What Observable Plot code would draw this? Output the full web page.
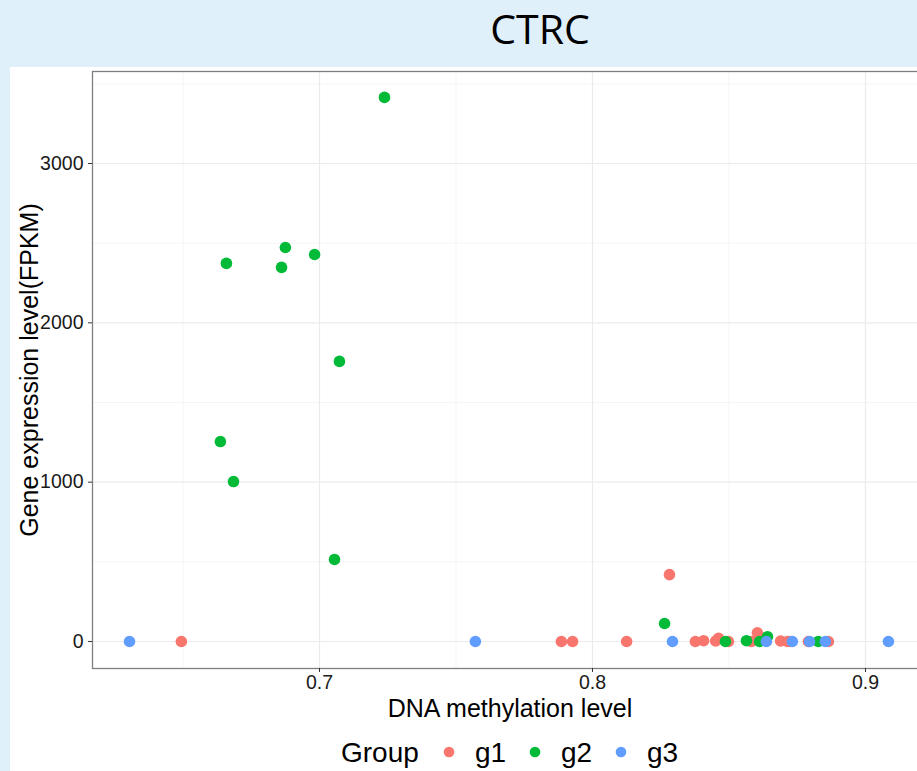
<!DOCTYPE html>
<html>
<head>
<meta charset="utf-8">
<script src="https://cdn.jsdelivr.net/npm/d3@7"></script>
<script src="https://cdn.jsdelivr.net/npm/@observablehq/plot@0.6"></script>
<style>
  html, body { margin: 0; padding: 0; width: 917px; height: 771px; overflow: hidden; background: #dff0fb; }
  #white { position: absolute; left: 10px; top: 67px; width: 907px; height: 704px; background: #ffffff; }
  #title { position: absolute; left: 540px; top: 8px; transform: translateX(-50%); font-family: "Open Sans", sans-serif; font-size: 41px; line-height: 41px; color: #000; white-space: nowrap; }
  #chart { position: absolute; left: 0; top: 0; }
  .lab { position: absolute; font-family: "Liberation Sans", Arial, sans-serif; color: #000; white-space: nowrap; line-height: 1; }
  #xtitle { left: 510px; top: 708px; font-size: 25px; transform: translate(-50%, -50%); }
  #ytitle { left: 29px; top: 370px; font-size: 25px; transform: translate(-50%, -50%) rotate(-90deg); }
  #legend { position: absolute; left: 0; top: 0; }
</style>
</head>
<body>
<div id="white"></div>
<div id="title">CTRC</div>
<div id="chart"></div>
<div class="lab" id="xtitle">DNA methylation level</div>
<div class="lab" id="ytitle">Gene expression level(FPKM)</div>
<div id="legend"></div>
<script>
// ---- data ----
const groups = ["g1", "g2", "g3"];
const groupColors = ["#F8766D", "#00BA38", "#619CFF"];

const g1X = [0.6494, 0.7886, 0.7927, 0.8125, 0.8282, 0.8377, 0.8407, 0.8451, 0.8462, 0.8498, 0.8582, 0.8604, 0.8689, 0.8714, 0.8725, 0.8791, 0.8864];
const g1Y = [0, 0, 0, 0, 420, 0, 5, 3, 20, 0, 0, 55, 3, 0, 0, 0, 0];

const g2X = [0.7238, 0.6875, 0.6982, 0.6659, 0.6861, 0.7073, 0.6637, 0.6685, 0.7055, 0.8264, 0.8487, 0.8564, 0.8612, 0.8641, 0.8827];
const g2Y = [3415, 2473, 2429, 2373, 2348, 1758, 1255, 1004, 515, 113, 0, 5, 0, 30, 0];

const g3X = [0.6304, 0.7571, 0.8293, 0.8637, 0.8732, 0.8795, 0.8853, 0.9084];
const g3Y = [0, 0, 0, 0, 0, 0, 0, 0];

const xMajor = [0.7, 0.8, 0.9];
const xMinor = [0.65, 0.75, 0.85];
const yMajor = [0, 1000, 2000, 3000];
const yMinor = [500, 1500, 2500, 3500];

const points = [];
[[g1X, g1Y, "g1"], [g2X, g2Y, "g2"], [g3X, g3Y, "g3"]].forEach(([xs, ys, g]) => {
  xs.forEach((x, i) => points.push({x, y: ys[i], g}));
});

const chart = Plot.plot({
  width: 940,
  height: 771,
  marginLeft: 92,
  marginRight: 12,
  marginTop: 71,
  marginBottom: 103,
  style: { background: "transparent", maxWidth: "none", fontFamily: "Liberation Sans, Arial, sans-serif", fontSize: "19.5px", color: "#222" },
  x: { domain: [0.61685, 0.92308], label: null },
  y: { domain: [-169.5, 3577.5], label: null },
  color: { domain: groups, range: groupColors },
  marks: [
    Plot.ruleX(xMinor, { stroke: "#f2f2f2", strokeWidth: 0.8 }),
    Plot.ruleY(yMinor, { stroke: "#f2f2f2", strokeWidth: 0.8 }),
    Plot.ruleX(xMajor, { stroke: "#ebebeb", strokeWidth: 1.2 }),
    Plot.ruleY(yMajor, { stroke: "#ebebeb", strokeWidth: 1.2 }),
    Plot.dot(points, { x: "x", y: "y", fill: "g", r: 5.8, stroke: null }),
    Plot.frame({ stroke: "#7f7f7f", strokeWidth: 1.3 }),
    Plot.axisX(xMajor, { tickSize: 4, tickPadding: 3, stroke: "#333", fill: "#1a1a1a", label: null, tickFormat: d => String(d) }),
    Plot.axisY(yMajor, { tickSize: 4, tickPadding: 5, stroke: "#333", fill: "#1a1a1a", label: null, tickFormat: d => String(d) })
  ]
});
document.getElementById("chart").appendChild(chart);

// legend below the plot
const legend = document.getElementById("legend");
const groupLab = document.createElement("div");
groupLab.className = "lab";
groupLab.textContent = "Group";
groupLab.style.cssText = "left:341px;top:753px;font-size:28px;transform:translateY(-50%);";
legend.appendChild(groupLab);
const dotX = [449, 535, 621];
groups.forEach((g, i) => {
  const sw = document.createElementNS("http://www.w3.org/2000/svg", "svg");
  sw.setAttribute("width", 14); sw.setAttribute("height", 14);
  sw.style.cssText = `position:absolute;left:${dotX[i] - 7}px;top:${752 - 7}px;`;
  const c = document.createElementNS("http://www.w3.org/2000/svg", "circle");
  c.setAttribute("cx", 7); c.setAttribute("cy", 7); c.setAttribute("r", 5.3);
  c.setAttribute("fill", groupColors[i]);
  sw.appendChild(c);
  legend.appendChild(sw);
  const t = document.createElement("div");
  t.className = "lab";
  t.textContent = g;
  t.style.cssText = `left:${dotX[i] + 26}px;top:753px;font-size:28px;transform:translateY(-50%);`;
  legend.appendChild(t);
});
</script>
</body>
</html>
